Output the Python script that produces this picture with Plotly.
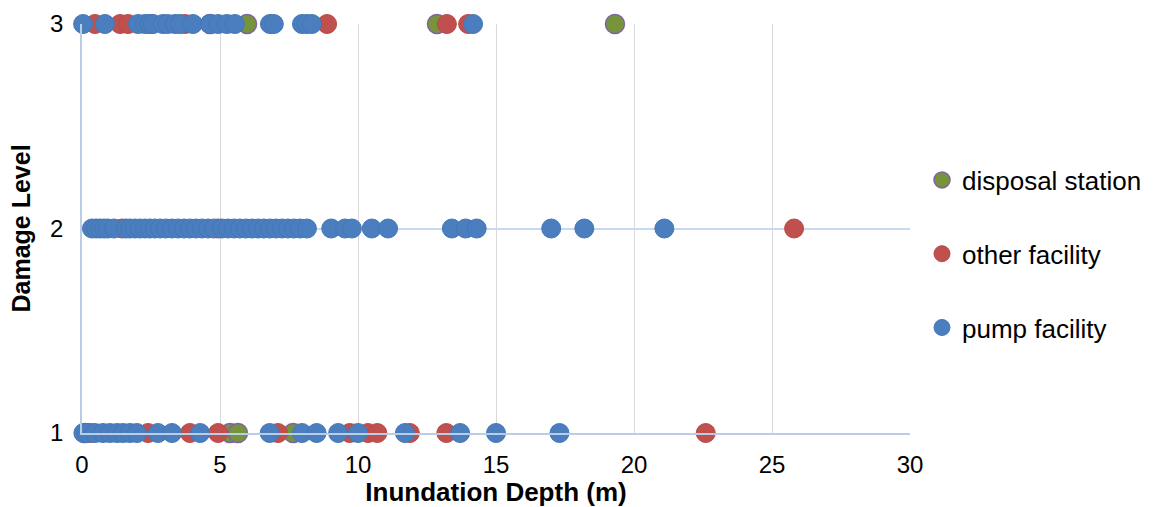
import plotly.graph_objects as go

# ---- data ----
disposal_depth = [5.98, 4.64, 12.86, 19.31, 0.10, 5.36, 5.65, 7.65]
disposal_level = [3, 3, 3, 3, 1, 1, 1, 1]

other_depth = [0.47, 1.38, 1.67, 2.50, 3.73, 8.88, 13.22, 13.99,
               1.45, 4.93, 25.8,
               0.30, 2.39, 3.91, 4.93, 7.10, 9.70, 10.36, 10.70, 11.88, 13.20, 22.60]
other_level = [3, 3, 3, 3, 3, 3, 3, 3,
               2, 2, 2,
               1, 1, 1, 1, 1, 1, 1, 1, 1, 1, 1]

pump_depth_3 = [0.04, 0.83, 2.03, 2.28, 2.45, 2.57, 2.93, 3.10, 3.37, 3.55, 4.02, 4.64,
                4.93, 5.25, 5.54, 6.81, 6.95, 7.97, 8.15, 8.33, 14.17]
pump_depth_2 = [0.36, 0.51, 0.65, 0.80, 0.94, 1.16, 1.59, 1.74, 1.92, 2.10, 2.28, 2.46,
                2.64, 2.83, 3.04, 3.26, 3.48, 3.70, 3.91, 4.13, 4.35, 4.57, 4.78, 5.07,
                5.29, 5.51, 5.72, 5.94, 6.16, 6.38, 6.59, 6.81, 7.03, 7.25, 7.46, 7.68,
                7.90, 8.15, 9.03, 9.53, 9.78, 10.50, 11.09, 13.40, 13.90, 14.30, 17.00,
                18.20, 21.10]
pump_depth_1 = [0.05, 0.18, 0.47, 0.76, 1.01, 1.27, 1.49, 1.74, 1.99, 2.75, 3.26, 4.28,
                6.80, 7.97, 8.50, 9.28, 10.00, 11.70, 13.70, 15.00, 17.30]
pump_depth = pump_depth_3 + pump_depth_2 + pump_depth_1
pump_level = [3] * len(pump_depth_3) + [2] * len(pump_depth_2) + [1] * len(pump_depth_1)

x_ticks = [0, 5, 10, 15, 20, 25, 30]
y_ticks = [1, 2, 3]

FONT = "Liberation Sans, Arial, sans-serif"

fig = go.Figure()
series = [
    ("disposal station", disposal_depth, disposal_level, "#77933c", "#8064a2", 1.5),
    ("other facility", other_depth, other_level, "#c0504d", "#b94a47", 1),
    ("pump facility", pump_depth, pump_level, "#4a7ebf", "#4577b5", 1),
]
for i, (name, xs, ys, fill, edge, lw) in enumerate(series):
    fig.add_trace(go.Scatter(
        x=xs, y=ys, mode="markers", name=name, legendgroup=f"g{i}",
        cliponaxis=False,
        marker=dict(size=19, color=fill, line=dict(color=edge, width=lw)),
    ))

fig.update_layout(
    width=1153, height=507,
    margin=dict(l=82, r=243, t=24, b=74, autoexpand=False),
    paper_bgcolor="white", plot_bgcolor="white",
    font=dict(family=FONT, color="#000000", size=24),
    showlegend=True,
    legend=dict(
        x=1.0145, xanchor="left", y=0.4377, yanchor="middle",
        font=dict(size=26, family=FONT, color="#000000"),
        tracegroupgap=37, itemsizing="trace", bgcolor="rgba(0,0,0,0)",
    ),
    xaxis=dict(
        range=[0, 30], tickvals=x_ticks, showgrid=True, gridcolor="#d9d9d9", gridwidth=1,
        showline=True, linecolor="#b9cde5", linewidth=1.5, zeroline=False,
        ticks="", ticklabelstandoff=9, tickfont=dict(size=24, family=FONT),
        title=dict(text="<b>Inundation Depth (m)</b>", font=dict(size=26, family=FONT), standoff=4),
        automargin=False,
    ),
    yaxis=dict(
        range=[1, 3], tickvals=y_ticks, showgrid=True, gridcolor="#c6d9f1", gridwidth=1.5,
        showline=True, linecolor="#b9cde5", linewidth=1.5, zeroline=False,
        ticks="", ticklabelstandoff=12, tickfont=dict(size=24, family=FONT),
        title=dict(text="<b>Damage Level</b>", font=dict(size=25, family=FONT), standoff=12),
        automargin=False,
    ),
)

fig.write_html("out.html")
